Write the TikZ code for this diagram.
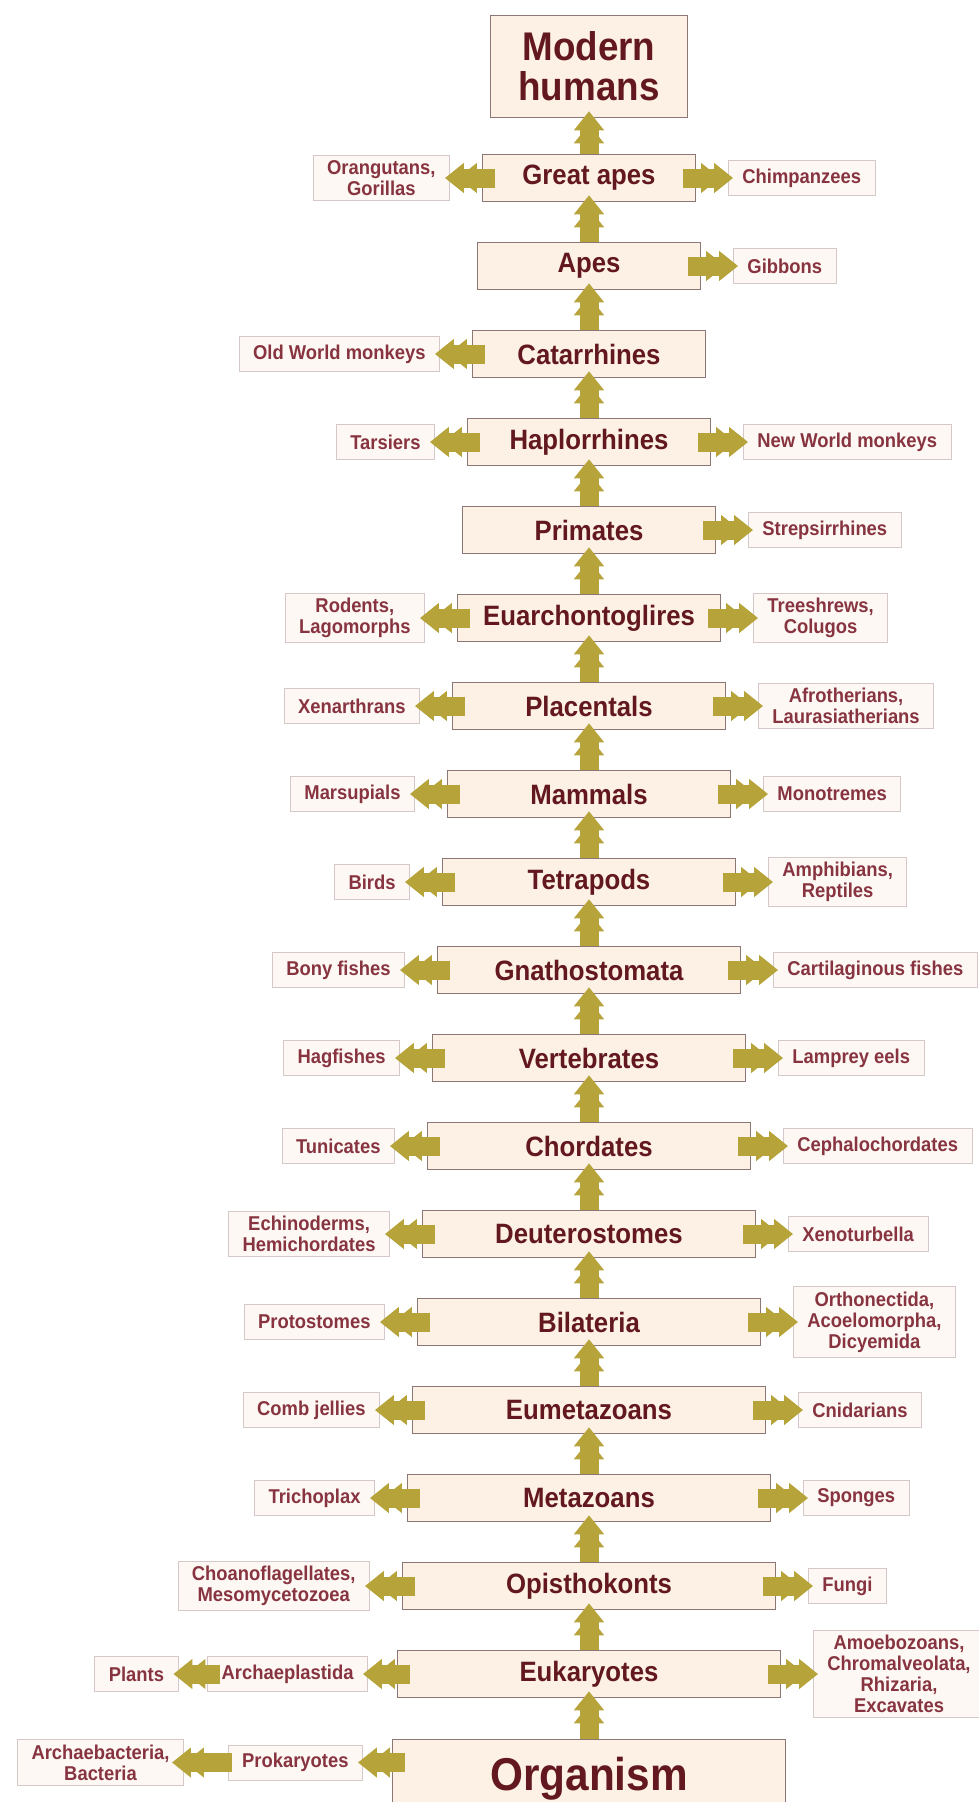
\documentclass[tikz,border=0pt]{standalone}
\usepackage{fontspec}
\usetikzlibrary{arrows.meta, positioning}
\newfontfamily\cladefont[FakeStretch=0.92]{Liberation Sans}
\definecolor{cladefill}{RGB}{252,241,228}
\definecolor{cladeline}{RGB}{140,118,118}
\definecolor{cladetext}{RGB}{98,24,30}
\definecolor{sidefill}{RGB}{253,248,243}
\definecolor{sideline}{RGB}{214,200,200}
\definecolor{sidetext}{RGB}{135,52,64}
\definecolor{olivearrow}{RGB}{182,164,58}

\begin{document}
\begin{tikzpicture}[x=1pt, y=-1pt,
                clade/.style={draw=cladeline, line width=1.5pt, fill=cladefill, text=cladetext,
                              font=\cladefont\bfseries\fontsize{28}{30}\selectfont,
                              minimum height=47pt, inner sep=2pt},
                sidebox/.style={draw=sideline, line width=0.8pt, fill=sidefill, text=sidetext,
                                align=center, font=\cladefont\bfseries\fontsize{20}{21}\selectfont,
                                minimum height=35pt, inner xsep=14pt, inner ysep=5pt},
                branch/.style={draw=olivearrow, line width=19pt,
                               -{Triangle[width=29pt,length=19pt,sep=-6pt]Triangle[width=29pt,length=19pt]}},
                node distance=31.8pt]

                \path[use as bounding box, fill=white] (0,0) rectangle (978,1802);

                % main line of descent - each clade below the previous one
                \node[clade, minimum width=213pt] (greatapes) at (589,178) {Great apes};
                \node[clade, minimum width=223pt, below=39.5pt of greatapes] (apes) {Apes};
                \node[clade, minimum width=233pt, below=39.5pt of apes] (catarrhines) {Catarrhines};
                \node[clade, minimum width=243pt, below=39.5pt of catarrhines] (haplorrhines) {Haplorrhines};
                \node[clade, minimum width=253pt, below=39.5pt of haplorrhines] (primates) {Primates};
                \node[clade, minimum width=263pt, below=39.5pt of primates] (euarch) {Euarchontoglires};
                \node[clade, minimum width=273pt, below=39.5pt of euarch] (placentals) {Placentals};
                \node[clade, minimum width=283pt, below=39.5pt of placentals] (mammals) {Mammals};
                \node[clade, minimum width=293pt, below=39.5pt of mammals] (tetrapods) {Tetrapods};
                \node[clade, minimum width=303pt, below=39.5pt of tetrapods] (gnatho) {Gnathostomata};
                \node[clade, minimum width=313pt, below=39.5pt of gnatho] (vertebrates) {Vertebrates};
                \node[clade, minimum width=323pt, below=39.5pt of vertebrates] (chordates) {Chordates};
                \node[clade, minimum width=333pt, below=39.5pt of chordates] (deutero) {Deuterostomes};
                \node[clade, minimum width=343pt, below=39.5pt of deutero] (bilateria) {Bilateria};
                \node[clade, minimum width=353pt, below=39.5pt of bilateria] (eumetazoans) {Eumetazoans};
                \node[clade, minimum width=363pt, below=39.5pt of eumetazoans] (metazoans) {Metazoans};
                \node[clade, minimum width=373pt, below=39.5pt of metazoans] (opistho) {Opisthokonts};
                \node[clade, minimum width=383pt, below=39.5pt of opistho] (eukaryotes) {Eukaryotes};

                % both ends of the line
                \node[clade, minimum width=197pt, minimum height=102pt, align=center,
                      font=\cladefont\bfseries\fontsize{40}{40}\selectfont,
                      above=35.5pt of greatapes] (modern) {Modern\\humans};
                \node[clade, minimum width=393pt, minimum height=78pt,
                      font=\cladefont\bfseries\fontsize{46}{46}\selectfont,
                      below=40.5pt of eukaryotes] (organism) {Organism};

                % side branches
                \node[sidebox, left=of greatapes] (orang) {Orangutans,\\Gorillas};
                \node[sidebox, right=of greatapes] (chimps) {Chimpanzees};
                \node[sidebox, right=of apes] (gibbons) {Gibbons};
                \node[sidebox, left=of catarrhines] (oldworld) {Old World monkeys};
                \node[sidebox, left=of haplorrhines] (tarsiers) {Tarsiers};
                \node[sidebox, right=of haplorrhines] (newworld) {New World monkeys};
                \node[sidebox, right=of primates] (strep) {Strepsirrhines};
                \node[sidebox, left=of euarch] (rodents) {Rodents,\\Lagomorphs};
                \node[sidebox, right=of euarch] (treeshrews) {Treeshrews,\\Colugos};
                \node[sidebox, left=of placentals] (xenarthrans) {Xenarthrans};
                \node[sidebox, right=of placentals] (afro) {Afrotherians,\\Laurasiatherians};
                \node[sidebox, left=of mammals] (marsupials) {Marsupials};
                \node[sidebox, right=of mammals] (monotremes) {Monotremes};
                \node[sidebox, left=of tetrapods] (birds) {Birds};
                \node[sidebox, right=of tetrapods] (amphibians) {Amphibians,\\Reptiles};
                \node[sidebox, left=of gnatho] (bony) {Bony fishes};
                \node[sidebox, right=of gnatho] (cartilaginous) {Cartilaginous fishes};
                \node[sidebox, left=of vertebrates] (hagfishes) {Hagfishes};
                \node[sidebox, right=of vertebrates] (lamprey) {Lamprey eels};
                \node[sidebox, left=of chordates] (tunicates) {Tunicates};
                \node[sidebox, right=of chordates] (cephalo) {Cephalochordates};
                \node[sidebox, left=of deutero] (echino) {Echinoderms,\\Hemichordates};
                \node[sidebox, right=of deutero] (xeno) {Xenoturbella};
                \node[sidebox, left=of bilateria] (protostomes) {Protostomes};
                \node[sidebox, right=of bilateria] (orthonectida) {Orthonectida,\\Acoelomorpha,\\Dicyemida};
                \node[sidebox, left=of eumetazoans] (comb) {Comb jellies};
                \node[sidebox, right=of eumetazoans] (cnidarians) {Cnidarians};
                \node[sidebox, left=of metazoans] (trichoplax) {Trichoplax};
                \node[sidebox, right=of metazoans] (sponges) {Sponges};
                \node[sidebox, left=of opistho] (choano) {Choanoflagellates,\\Mesomycetozoea};
                \node[sidebox, right=of opistho] (fungi) {Fungi};
                \node[sidebox, left=28.8pt of eukaryotes] (archaeplastida) {Archaeplastida};
                \node[sidebox, left=28.8pt of archaeplastida] (plants) {Plants};
                \node[sidebox, right=of eukaryotes] (amoebo) {Amoebozoans,\\Chromalveolata,\\Rhizaria,\\Excavates};
                \node[sidebox, left=28.8pt of organism.west, yshift=16pt] (prok) {Prokaryotes};
                \node[sidebox, left=43.8pt of prok] (archaebacteria) {Archaebacteria,\\Bacteria};

                % upward arrows
                \draw[branch] (organism.north) -- ([yshift=7pt]eukaryotes.south);
                \draw[branch] (eukaryotes.north) -- ([yshift=7pt]opistho.south);
                \draw[branch] (opistho.north) -- ([yshift=7pt]metazoans.south);
                \draw[branch] (metazoans.north) -- ([yshift=7pt]eumetazoans.south);
                \draw[branch] (eumetazoans.north) -- ([yshift=7pt]bilateria.south);
                \draw[branch] (bilateria.north) -- ([yshift=7pt]deutero.south);
                \draw[branch] (deutero.north) -- ([yshift=7pt]chordates.south);
                \draw[branch] (chordates.north) -- ([yshift=7pt]vertebrates.south);
                \draw[branch] (vertebrates.north) -- ([yshift=7pt]gnatho.south);
                \draw[branch] (gnatho.north) -- ([yshift=7pt]tetrapods.south);
                \draw[branch] (tetrapods.north) -- ([yshift=7pt]mammals.south);
                \draw[branch] (mammals.north) -- ([yshift=7pt]placentals.south);
                \draw[branch] (placentals.north) -- ([yshift=7pt]euarch.south);
                \draw[branch] (euarch.north) -- ([yshift=7pt]primates.south);
                \draw[branch] (primates.north) -- ([yshift=7pt]haplorrhines.south);
                \draw[branch] (haplorrhines.north) -- ([yshift=7pt]catarrhines.south);
                \draw[branch] (catarrhines.north) -- ([yshift=7pt]apes.south);
                \draw[branch] (apes.north) -- ([yshift=7pt]greatapes.south);
                \draw[branch] (greatapes.north) -- ([yshift=7pt]modern.south);

                % arrows to the left
                \draw[branch] ([xshift=13pt]greatapes.west) -- ([xshift=-5pt]orang.east);
                \draw[branch] ([xshift=13pt]catarrhines.west) -- ([xshift=-5pt]oldworld.east);
                \draw[branch] ([xshift=13pt]haplorrhines.west) -- ([xshift=-5pt]tarsiers.east);
                \draw[branch] ([xshift=13pt]euarch.west) -- ([xshift=-5pt]rodents.east);
                \draw[branch] ([xshift=13pt]placentals.west) -- ([xshift=-5pt]xenarthrans.east);
                \draw[branch] ([xshift=13pt]mammals.west) -- ([xshift=-5pt]marsupials.east);
                \draw[branch] ([xshift=13pt]tetrapods.west) -- ([xshift=-5pt]birds.east);
                \draw[branch] ([xshift=13pt]gnatho.west) -- ([xshift=-5pt]bony.east);
                \draw[branch] ([xshift=13pt]vertebrates.west) -- ([xshift=-5pt]hagfishes.east);
                \draw[branch] ([xshift=13pt]chordates.west) -- ([xshift=-5pt]tunicates.east);
                \draw[branch] ([xshift=13pt]deutero.west) -- ([xshift=-5pt]echino.east);
                \draw[branch] ([xshift=13pt]bilateria.west) -- ([xshift=-5pt]protostomes.east);
                \draw[branch] ([xshift=13pt]eumetazoans.west) -- ([xshift=-5pt]comb.east);
                \draw[branch] ([xshift=13pt]metazoans.west) -- ([xshift=-5pt]trichoplax.east);
                \draw[branch] ([xshift=13pt]opistho.west) -- ([xshift=-5pt]choano.east);
                \draw[branch] ([xshift=13pt]eukaryotes.west) -- ([xshift=-5pt]archaeplastida.east);
                \draw[branch] ([xshift=13pt]archaeplastida.west) -- ([xshift=-5pt]plants.east);
                \draw[branch] ([xshift=13pt]organism.west |- prok.east) -- ([xshift=-5pt]prok.east);
                \draw[branch] ([xshift=4pt]prok.west) -- ([xshift=-12pt]archaebacteria.east);

                % arrows to the right
                \draw[branch] ([xshift=-13pt]greatapes.east) -- ([xshift=5pt]chimps.west);
                \draw[branch] ([xshift=-13pt]apes.east) -- ([xshift=5pt]gibbons.west);
                \draw[branch] ([xshift=-13pt]haplorrhines.east) -- ([xshift=5pt]newworld.west);
                \draw[branch] ([xshift=-13pt]primates.east) -- ([xshift=5pt]strep.west);
                \draw[branch] ([xshift=-13pt]euarch.east) -- ([xshift=5pt]treeshrews.west);
                \draw[branch] ([xshift=-13pt]placentals.east) -- ([xshift=5pt]afro.west);
                \draw[branch] ([xshift=-13pt]mammals.east) -- ([xshift=5pt]monotremes.west);
                \draw[branch] ([xshift=-13pt]tetrapods.east) -- ([xshift=5pt]amphibians.west);
                \draw[branch] ([xshift=-13pt]gnatho.east) -- ([xshift=5pt]cartilaginous.west);
                \draw[branch] ([xshift=-13pt]vertebrates.east) -- ([xshift=5pt]lamprey.west);
                \draw[branch] ([xshift=-13pt]chordates.east) -- ([xshift=5pt]cephalo.west);
                \draw[branch] ([xshift=-13pt]deutero.east) -- ([xshift=5pt]xeno.west);
                \draw[branch] ([xshift=-13pt]bilateria.east) -- ([xshift=5pt]orthonectida.west);
                \draw[branch] ([xshift=-13pt]eumetazoans.east) -- ([xshift=5pt]cnidarians.west);
                \draw[branch] ([xshift=-13pt]metazoans.east) -- ([xshift=5pt]sponges.west);
                \draw[branch] ([xshift=-13pt]opistho.east) -- ([xshift=5pt]fungi.west);
                \draw[branch] ([xshift=-13pt]eukaryotes.east) -- ([xshift=5pt]amoebo.west);
            \end{tikzpicture}
\end{document}
